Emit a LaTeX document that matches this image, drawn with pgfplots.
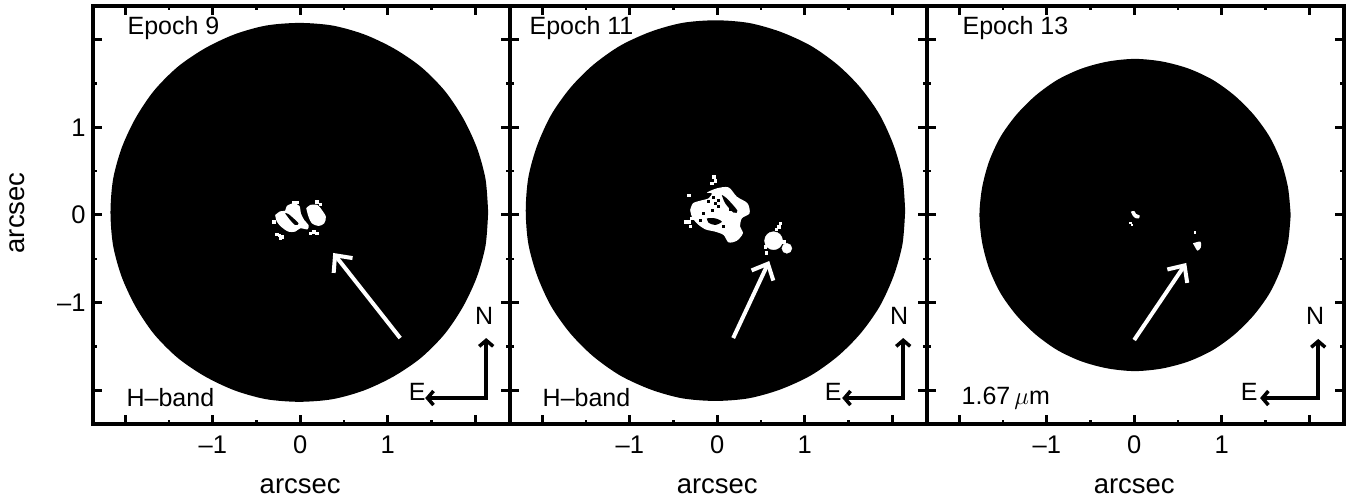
\documentclass[border=0pt]{standalone}
\usepackage{fontspec}
\setmainfont{Liberation Sans}
\usepackage{pgfplots}
\pgfplotsset{compat=1.18}
\usetikzlibrary{arrows.meta}

\pgfplotsset{
  panel/.style={
    scale only axis, width=417pt, height=418pt,
    anchor=south west,
    xmin=-2.37, xmax=2.40, ymin=-2.383, ymax=2.383,
    xtick={-2,-1,0,1,2}, ytick={-2,-1,0,1,2},
    xticklabels={,--1,0,1,},
    minor tick num=1,
    tick align=inside,
    major tick length=9pt, minor tick length=4pt,
    axis line style={line width=3.5pt},
    major tick style={line width=3pt,black},
    minor tick style={line width=2.5pt,black},
    tick label style={font=\fontsize{25.5}{30}\selectfont},
    xticklabel style={yshift=-8pt},
    yticklabel style={xshift=-4pt},
    label style={font=\fontsize{27.5}{32}\selectfont},
    xlabel={arcsec},
    xlabel style={at={(axis description cs:0.497,-0.15)},anchor=center},
    axis on top,
  },
  disc/.style={fill=black,draw=none,smooth},
  blob/.style={fill=white,draw=none,smooth,tension=0.5},
  hole/.style={fill=black,draw=none,smooth,tension=0.5},
  speck/.style={only marks,mark=square*,mark size=1.2pt,white},
  dark/.style={only marks,mark=square*,mark size=1pt,black},
  pointer/.style={white,line width=4pt,-{Straight Barb[length=13pt,width=24pt]}},
  compass/.style={black,line width=3.5pt,{Straight Barb[length=6pt,width=14pt]}-{Straight Barb[length=6pt,width=14pt]}},
}

\begin{document}
\begin{tikzpicture}[every node/.style={font=\fontsize{25}{29}\selectfont}]
\path[use as bounding box] (0pt,0pt) rectangle (1355pt,498pt);

% Epoch 9
\begin{axis}[panel, at={(93pt,74pt)},
    yticklabels={,--1,0,1,},
    ylabel={arcsec},
    ylabel style={at={(axis description cs:-0.182,0.505)},anchor=center}]
\addplot[disc] coordinates {
  (2.15,0.03) (2.12,0.41) (2.02,0.77) (1.86,1.11) (1.65,1.42) (1.38,1.69)
  (1.07,1.90) (0.73,2.06) (0.37,2.16) (-0.01,2.19) (-0.39,2.16) (-0.75,2.06)
  (-1.09,1.90) (-1.40,1.69) (-1.67,1.42) (-1.88,1.11) (-2.04,0.77) (-2.14,0.41)
  (-2.17,0.03) (-2.14,-0.35) (-2.04,-0.71) (-1.88,-1.05) (-1.67,-1.36) (-1.40,-1.63)
  (-1.09,-1.84) (-0.75,-2.00) (-0.39,-2.10) (-0.01,-2.13) (0.37,-2.10) (0.73,-2.00)
  (1.07,-1.84) (1.38,-1.63) (1.65,-1.36) (1.86,-1.05) (2.02,-0.71) (2.12,-0.35)
  (2.15,0.03)
} -- cycle;
\addplot[blob] coordinates {
  (-.286,0) (-.229,.042) (-.172,.049) (-.153,.103) (-.076,.133) (-.008,.103)
  (.008,.019) (.046,-.057) (.095,-.114) (.084,-.163) (0,-.152) (-.057,-.19)
  (-.134,-.19) (-.21,-.141) (-.267,-.076) (-.286,0)
} -- cycle;
\addplot[hole] coordinates {(-.172,.019) (-.134,.011) (-.019,-.095) (-.057,-.114) (-.115,-.057) (-.172,.019)} -- cycle;
\addplot[blob] coordinates {
  (.069,.076) (.114,.114) (.198,.114) (.248,.057) (.294,-.019) (.275,-.095)
  (.21,-.125) (.133,-.095) (.095,-.019) (.069,.076)
} -- cycle;
\addplot[speck] coordinates {
  (-.237,-.228) (-.267,-.217) (-.21,-.247) (-.229,-.266) (-.076,.141) (-.038,.144)
  (.191,.152) (.229,.125) (.114,-.209) (.191,-.209) (.153,-.19) (-.305,-.076)
};
\addplot[pointer] coordinates {(1.144,-1.403) (0.378,-0.433)};
\addplot[compass] coordinates {(1.43,-2.087) (2.128,-2.087) (2.128,-1.403)};
\node[anchor=west] at (axis cs:-2.014,2.13) {Epoch 9};
\node[anchor=west] at (axis cs:-2.026,-2.085) {H--band};
\node at (axis cs:2.105,-1.152) {N};
\node at (axis cs:1.339,-2.02) {E};
\end{axis}

% Epoch 11
\begin{axis}[panel, at={(510pt,74pt)}, yticklabels={,,,,}]
\addplot[disc] coordinates {
  (2.15,0.05) (2.12,0.43) (2.02,0.79) (1.86,1.14) (1.64,1.45) (1.38,1.71)
  (1.07,1.93) (0.72,2.09) (0.36,2.19) (-0.02,2.22) (-0.40,2.19) (-0.76,2.09)
  (-1.11,1.93) (-1.42,1.71) (-1.68,1.45) (-1.90,1.14) (-2.06,0.79) (-2.16,0.43)
  (-2.19,0.05) (-2.16,-0.33) (-2.06,-0.69) (-1.90,-1.04) (-1.68,-1.35) (-1.42,-1.61)
  (-1.11,-1.83) (-0.76,-1.99) (-0.40,-2.09) (-0.02,-2.12) (0.36,-2.09) (0.72,-1.99)
  (1.07,-1.83) (1.38,-1.61) (1.64,-1.35) (1.86,-1.04) (2.02,-0.69) (2.12,-0.33)
  (2.15,0.05)
} -- cycle;
\addplot[blob] coordinates {
  (-.309,.057) (-.278,.133) (-.194,.163) (-.099,.19) (-.061,.247) (-.118,.255)
  (-.004,.304) (.13,.315) (.225,.209) (.347,.133) (.37,.019) (.282,-.038)
  (.263,-.133) (.294,-.209) (.225,-.293) (.13,-.312) (.073,-.228) (-.023,-.19)
  (-.137,-.163) (-.233,-.095) (-.29,-.019) (-.309,.057)
} -- cycle;
\addplot[hole] coordinates {(.053,.228) (.11,.19) (.232,.049) (.187,.027) (.092,.133) (.053,.228)} -- cycle;
\addplot[hole] coordinates {(-.118,-.038) (-.023,-.038) (.053,-.076) (-.023,-.114) (-.099,-.087) (-.118,-.038)} -- cycle;
\addplot[dark] coordinates {
  (-.023,.133) (.015,.171) (.149,.065) (-.156,.019) (-.061,.057) (.073,-.133)
  (-.194,-.057) (-.099,.152) (.015,.095) (-.042,.2)
};
\addplot[only marks,mark=*,mark size=9pt,white] coordinates {(.645,-.293)};
\addplot[only marks,mark=*,mark size=5pt,white] coordinates {(.797,-.38)};
\addplot[speck] coordinates {
  (-.042,.437) (-.023,.391) (-.061,.361) (-.328,-.076) (-.366,-.076) (-.309,-.125)
  (-.29,-.038) (-.328,.228) (.721,-.095) (.702,-.133) (.675,-.163) (.549,-.361)
  (.561,-.429) (.759,-.304)
};
\addplot[pointer] coordinates {(0.183,-1.403) (0.595,-0.525)};
\addplot[compass] coordinates {(1.43,-2.087) (2.128,-2.087) (2.128,-1.403)};
\node[anchor=west] at (axis cs:-2.186,2.13) {Epoch 11};
\node[anchor=west] at (axis cs:-2.036,-2.085) {H--band};
\node at (axis cs:2.082,-1.152) {N};
\node at (axis cs:1.327,-2.02) {E};
\end{axis}

% Epoch 13
\begin{axis}[panel, at={(927pt,74pt)}, yticklabels={,,,,}]
\addplot[disc] coordinates {
  (1.79,0) (1.76,0.31) (1.68,0.61) (1.55,0.89) (1.37,1.14) (1.15,1.36)
  (0.90,1.54) (0.62,1.67) (0.32,1.75) (0.01,1.78) (-0.30,1.75) (-0.60,1.67)
  (-0.88,1.54) (-1.13,1.36) (-1.35,1.14) (-1.53,0.89) (-1.66,0.61) (-1.74,0.31)
  (-1.77,0) (-1.74,-0.31) (-1.66,-0.61) (-1.53,-0.89) (-1.35,-1.14) (-1.13,-1.36)
  (-0.88,-1.54) (-0.60,-1.67) (-0.30,-1.75) (0.01,-1.78) (0.32,-1.75) (0.62,-1.67)
  (0.90,-1.54) (1.15,-1.36) (1.37,-1.14) (1.55,-0.89) (1.68,-0.61) (1.76,-0.31)
  (1.79,0)
} -- cycle;
\addplot[blob] coordinates {(-.038,.038) (0,.046) (.023,.011) (.061,-.004) (.054,-.038) (.012,-.034) (-.015,-.011) (-.038,.038)} -- cycle;
\addplot[blob] coordinates {(.672,-.323) (.756,-.304) (.763,-.369) (.725,-.407) (.698,-.369) (.672,-.323)} -- cycle;
\addplot[speck,mark size=0.7pt] coordinates {(-.045,-.087) (-.03,-.114) (.695,-.198)};
\addplot[pointer] coordinates {(0,-1.425) (0.595,-0.547)};
\addplot[compass] coordinates {(1.44,-2.087) (2.105,-2.087) (2.105,-1.413)};
\node[anchor=west] at (axis cs:-2.003,2.13) {Epoch 13};
\node[anchor=west] at (axis cs:-2.014,-2.085) {1.67\,$\mu$m};
\node at (axis cs:2.07,-1.152) {N};
\node at (axis cs:1.316,-2.02) {E};
\end{axis}
\end{tikzpicture}
\end{document}
